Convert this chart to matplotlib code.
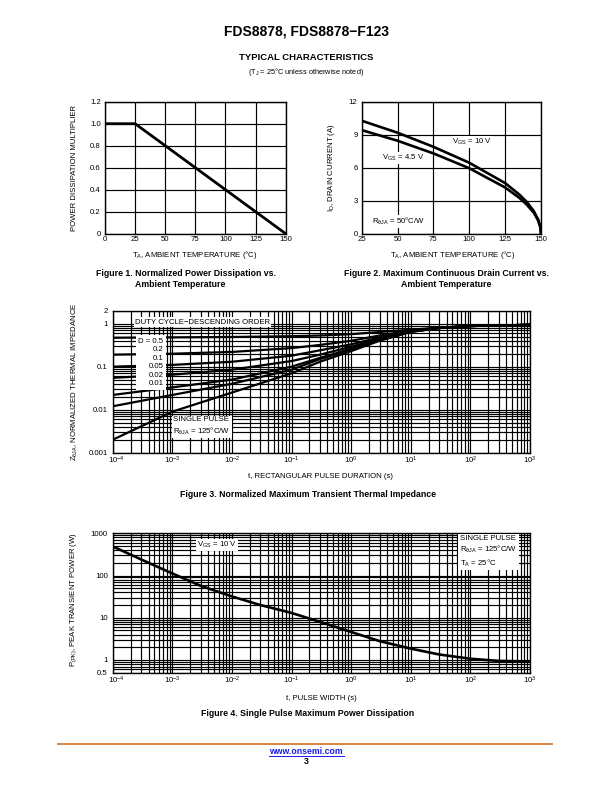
# ============================================================
#  FDS8878 datasheet page 3 — Typical Characteristics (4 charts)
# ============================================================

import matplotlib
matplotlib.use("Agg")
import matplotlib.pyplot as plt
from matplotlib.lines import Line2D
from matplotlib.transforms import ScaledTranslation
from matplotlib.ticker import FixedLocator, LogLocator, NullFormatter, FixedFormatter

# ── ข้อมูล (อ่านค่าจากภาพ) ──────────────────────────────────
fig1_temp = [0, 25, 150]
fig1_mult = [1.0, 1.0, 0.0]

fig2_temp = [25, 50, 75, 100, 125, 135, 140, 145, 148, 149.5, 150]
fig2_id_10v = [10.27, 9.18, 7.9, 6.45, 4.6, 3.55, 2.9, 2.05, 1.3, 0.65, 0.0]
fig2_id_45v = [9.42, 8.45, 7.3, 5.95, 4.2, 3.25, 2.65, 1.9, 1.2, 0.6, 0.0]

fig3_time = [1e-4, 1e-3, 1e-2, 1e-1, 0.3, 1, 3, 10, 30, 100, 1000]
fig3_d050 = [0.47, 0.48, 0.49, 0.51, 0.53, 0.57, 0.64, 0.72, 0.81, 0.88, 0.94]
fig3_d020 = [0.19, 0.20, 0.22, 0.27, 0.32, 0.40, 0.53, 0.69, 0.80, 0.88, 0.94]
fig3_d010 = [0.10, 0.11, 0.13, 0.18, 0.24, 0.33, 0.48, 0.67, 0.80, 0.88, 0.94]
fig3_d005 = [0.055, 0.065, 0.085, 0.135, 0.19, 0.29, 0.45, 0.66, 0.79, 0.88, 0.94]
fig3_d002 = [0.022, 0.033, 0.05, 0.10, 0.16, 0.26, 0.43, 0.65, 0.79, 0.88, 0.94]
fig3_d001 = [0.012, 0.022, 0.04, 0.085, 0.15, 0.25, 0.42, 0.65, 0.79, 0.88, 0.94]
fig3_single = [0.002, 0.009, 0.025, 0.07, 0.13, 0.23, 0.40, 0.64, 0.79, 0.88, 0.94]

fig4_time = [1e-4, 3e-4, 1e-3, 3e-3, 1e-2, 3e-2, 1e-1, 3e-1, 1, 3, 10, 30, 100, 300, 1000]
fig4_power = [490, 240, 112, 57, 32, 20, 13, 8.0, 4.6, 2.8, 1.86, 1.35, 1.07, 0.95, 0.92]

fig1_xticks = [0, 25, 50, 75, 100, 125, 150]
fig1_yticks = [0, 0.2, 0.4, 0.6, 0.8, 1.0, 1.2]
fig1_ylabels = ["0", "0.2", "0.4", "0.6", "0.8", "1.0", "1.2"]
fig2_xticks = [25, 50, 75, 100, 125, 150]
fig2_yticks = [0, 3, 6, 9, 12]
fig3_yticks = [0.001, 0.01, 0.1, 1, 2]
fig3_ylabels = ["0.001", "0.01", "0.1", "1", "2"]
fig4_yticks = [0.5, 1, 10, 100, 1000]
fig4_ylabels = ["0.5", "1", "10", "100", "1000"]
log_xticks = [1e-4, 1e-3, 1e-2, 1e-1, 1, 10, 100, 1000]
log_xlabels = [r"$10^{-4}$", r"$10^{-3}$", r"$10^{-2}$", r"$10^{-1}$",
               r"$10^{0}$", r"$10^{1}$", r"$10^{2}$", r"$10^{3}$"]

# ── ตั้งค่าฟอนต์ ─────────────────────────────────────────────
plt.rcParams["font.family"] = ["Liberation Sans", "DejaVu Sans"]
plt.rcParams["mathtext.fontset"] = "custom"
plt.rcParams["mathtext.rm"] = "Liberation Sans"
plt.rcParams["mathtext.it"] = "Liberation Sans"
plt.rcParams["mathtext.default"] = "regular"

W, H = 612, 792
fig = plt.figure(figsize=(W / 100, H / 100), dpi=100)
fig.patch.set_facecolor("white")

TICK = 5.6
LAB = 5.6
CAP = 6.3
GRID_LW = 0.85
CURVE_LW = 1.9


def px_axes(left, top, right, bottom):
    return fig.add_axes([left / W, 1 - bottom / H, (right - left) / W, (bottom - top) / H])


def ftext(x, y, s, **kw):
    fig.text(x / W, 1 - y / H, s, **kw)


def style(ax):
    ax.tick_params(which="both", length=0, labelsize=TICK, colors="black")
    for sp in ax.spines.values():
        sp.set_linewidth(1.0)
    ax.set_axisbelow(True)


# ── หัวกระดาษ ────────────────────────────────────────────────
ftext(306, 31, "FDS8878, FDS8878\u2212F123", ha="center", va="center",
      fontsize=10, fontweight="bold")
ftext(306, 58, "TYPICAL CHARACTERISTICS", ha="center", va="center",
      fontsize=6.8, fontweight="bold")
ftext(306, 71.5, "(T$_J$ = 25\u00b0C unless otherwise noted)", ha="center", va="center",
      fontsize=5.3)

# ── Figure 1 ────────────────────────────────────────────────
ax1 = px_axes(105, 101.7, 285.7, 233.7)
ax1.plot(fig1_temp, fig1_mult, color="black", lw=2.0, solid_capstyle="butt")
ax1.set_xlim(0, 150)
ax1.set_ylim(0, 1.2)
ax1.set_xticks(fig1_xticks)
ax1.set_yticks(fig1_yticks)
ax1.set_yticklabels(fig1_ylabels)
ax1.grid(True, color="black", lw=GRID_LW)
style(ax1)
ax1.tick_params(axis="x", pad=1.5)
ax1.tick_params(axis="y", pad=3)
ftext(195, 255, "T$_A$, AMBIENT TEMPERATURE (\u00b0C)", ha="center", va="center", fontsize=LAB)
ftext(75, 168, "POWER DISSIPATION MULTIPLIER", ha="center", va="center",
      rotation=90, fontsize=LAB)
ftext(186, 273.7, "Figure 1. Normalized Power Dissipation vs.", ha="center", va="center",
      fontsize=CAP, fontweight="bold")
ftext(180, 284.3, "Ambient Temperature", ha="center", va="center",
      fontsize=CAP, fontweight="bold")

# ── Figure 2 ────────────────────────────────────────────────
ax2 = px_axes(361.7, 101.7, 541, 233.7)
ax2.plot(fig2_temp, fig2_id_10v, color="black", lw=CURVE_LW)
ax2.plot(fig2_temp, fig2_id_45v, color="black", lw=CURVE_LW)
ax2.set_xlim(25, 150)
ax2.set_ylim(0, 12)
ax2.set_xticks(fig2_xticks)
ax2.set_yticks(fig2_yticks)
ax2.grid(True, color="black", lw=GRID_LW)
style(ax2)
ax2.tick_params(axis="x", pad=1.5)
ax2.tick_params(axis="y", pad=3)
wbox = dict(facecolor="white", edgecolor="none", pad=0.6)
ax2.text(87.7, 8.36, "V$_{GS}$ = 10 V", fontsize=TICK, ha="left", va="center", bbox=wbox)
ax2.text(38.9, 6.85, "V$_{GS}$ = 4.5 V", fontsize=TICK, ha="left", va="center", bbox=wbox)
ax2.text(32, 1.09, "R$_{\u03b8JA}$ = 50\u00b0C/W", fontsize=TICK, ha="left", va="center", bbox=wbox)
ftext(453, 255, "T$_A$, AMBIENT TEMPERATURE (\u00b0C)", ha="center", va="center", fontsize=LAB)
ftext(331.7, 168, "I$_D$, DRAIN CURRENT (A)", ha="center", va="center",
      rotation=90, fontsize=LAB)
ftext(446, 273.7, "Figure 2. Maximum Continuous Drain Current vs.", ha="center", va="center",
      fontsize=CAP, fontweight="bold")
ftext(446, 284.3, "Ambient Temperature", ha="center", va="center",
      fontsize=CAP, fontweight="bold")


def log_grid(ax):
    ax.set_xscale("log")
    ax.set_yscale("log")
    ax.xaxis.set_major_locator(FixedLocator(log_xticks))
    ax.xaxis.set_major_formatter(FixedFormatter(log_xlabels))
    ax.xaxis.set_minor_locator(LogLocator(base=10, subs=range(2, 10), numticks=20))
    ax.xaxis.set_minor_formatter(NullFormatter())
    ax.yaxis.set_minor_locator(LogLocator(base=10, subs=range(1, 10), numticks=20))
    ax.yaxis.set_minor_formatter(NullFormatter())
    ax.grid(True, which="both", color="black", lw=GRID_LW)
    style(ax)
    ax.tick_params(axis="x", pad=1.5)
    ax.tick_params(axis="y", pad=3.5)


def nudge_first_xlabel(ax):
    # เลื่อน 10^-4 ไปทางขวาเล็กน้อย ไม่ให้ชนกับ label แกน y
    lab = ax.xaxis.get_major_ticks()[0].label1
    lab.set_transform(lab.get_transform() + ScaledTranslation(3 / 72, 0, fig.dpi_scale_trans))


# ── Figure 3 ────────────────────────────────────────────────
ax3 = px_axes(112.7, 310.7, 530, 452.7)
for series in [fig3_d050, fig3_d020, fig3_d010, fig3_d005, fig3_d002, fig3_d001, fig3_single]:
    ax3.plot(fig3_time, series, color="black", lw=1.6)
ax3.set_xlim(1e-4, 1e3)
ax3.set_ylim(0.001, 2)
log_grid(ax3)
ax3.yaxis.set_major_locator(FixedLocator(fig3_yticks))
ax3.yaxis.set_major_formatter(FixedFormatter(fig3_ylabels))
ax3.text(10 ** -3.626, 10 ** 0.037, "DUTY CYCLE\u2212DESCENDING ORDER", fontsize=TICK,
         ha="left", va="center", bbox=dict(facecolor="white", edgecolor="none", pad=0.8))
ax3.text(10 ** -3.151, 10 ** -0.905, "D = 0.5\n0.2\n0.1\n0.05\n0.02\n0.01", fontsize=TICK,
         ha="right", va="center", multialignment="right", linespacing=1.3,
         bbox=dict(facecolor="white", edgecolor="none", pad=2.0))
ax3.text(10 ** -2.983, 10 ** -2.388, "SINGLE PULSE\nR$_{\u03b8JA}$ = 125\u00b0C/W", fontsize=TICK,
         ha="left", va="center", linespacing=1.3,
         bbox=dict(facecolor="white", edgecolor="none", pad=0.8))
ftext(321, 476.7, "t, RECTANGULAR PULSE DURATION (s)", ha="center", va="center", fontsize=LAB)
ftext(75, 382, "Z$_{\u03b8JA}$, NORMALIZED THERMAL IMPEDANCE", ha="center", va="center",
      rotation=90, fontsize=LAB)
ftext(308, 494.3, "Figure 3. Normalized Maximum Transient Thermal Impedance", ha="center",
      va="center", fontsize=CAP, fontweight="bold")

# ── Figure 4 ────────────────────────────────────────────────
ax4 = px_axes(112.7, 533.3, 530, 672.7)
ax4.plot(fig4_time, fig4_power, color="black", lw=CURVE_LW)
ax4.set_xlim(1e-4, 1e3)
ax4.set_ylim(0.5, 1000)
log_grid(ax4)
ax4.yaxis.set_major_locator(FixedLocator(fig4_yticks))
ax4.yaxis.set_major_formatter(FixedFormatter(fig4_ylabels))
ax4.text(10 ** -2.58, 10 ** 2.73, "V$_{GS}$ = 10 V", fontsize=TICK, ha="left", va="center",
         bbox=dict(facecolor="white", edgecolor="none", pad=0.8))
ax4.text(10 ** 1.827, 10 ** 2.564, "SINGLE PULSE\nR$_{\u03b8JA}$ = 125\u00b0C/W\nT$_A$ = 25\u00b0C",
         fontsize=TICK, ha="left", va="center", linespacing=1.3,
         bbox=dict(facecolor="white", edgecolor="none", pad=1.2))
ftext(321, 698.3, "t, PULSE WIDTH (s)", ha="center", va="center", fontsize=LAB)
ftext(73.3, 600, "P$_{(PK)}$, PEAK TRANSIENT POWER (W)", ha="center", va="center",
      rotation=90, fontsize=LAB)
ftext(308, 713.3, "Figure 4. Single Pulse Maximum Power Dissipation", ha="center",
      va="center", fontsize=CAP, fontweight="bold")

nudge_first_xlabel(ax3)
nudge_first_xlabel(ax4)

# ── ท้ายกระดาษ ───────────────────────────────────────────────
fig.add_artist(Line2D([58 / W, 552 / W], [1 - 744 / H, 1 - 744 / H],
                      color="#D4792E", lw=1.3, transform=fig.transFigure))
ftext(306, 751.5, "www.onsemi.com", ha="center", va="center", fontsize=6.3,
      fontweight="bold", color="#1A1AE6")
fig.add_artist(Line2D([268.5 / W, 343.5 / W], [1 - 755.8 / H, 1 - 755.8 / H],
                      color="#1A1AE6", lw=0.7, transform=fig.transFigure))
ftext(306, 761.7, "3", ha="center", va="center", fontsize=6.3, fontweight="bold")

fig.savefig("out.png", dpi=100, facecolor="white")
